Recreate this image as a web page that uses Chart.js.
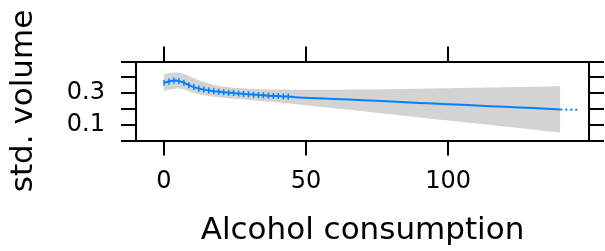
<!DOCTYPE html>
<html>
<head>
<meta charset="utf-8">
<script src="https://cdn.jsdelivr.net/npm/chart.js@4/dist/chart.umd.min.js"></script>
<style>
  html, body { margin: 0; padding: 0; background: #fff; }
  canvas { display: block; }
</style>
</head>
<body>
<canvas id="effectChart" width="605" height="251"></canvas>
<script>
// --- data ---
// fitted effect (solid part)
const fitX = [0, 1.75, 3.5, 5.25, 7, 8.75, 10.5, 12.25, 14, 15.75, 17.5, 19.25, 21, 22.75, 24.5, 26.25, 28, 29.75,
              31.5, 33.25, 35, 36.75, 38.5, 40.25, 42, 43.75, 50, 60, 70, 80, 90, 100, 110, 120, 130, 139.5];
const fitY = [0.365, 0.374, 0.379, 0.377, 0.366, 0.350, 0.338, 0.329, 0.322, 0.316, 0.312, 0.309, 0.306, 0.303, 0.300, 0.297, 0.295, 0.292,
              0.290, 0.288, 0.286, 0.284, 0.282, 0.281, 0.279, 0.278, 0.270, 0.263, 0.255, 0.247, 0.238, 0.230, 0.222, 0.213, 0.205, 0.196];
// dotted extension past the band
const extX = [139.5, 146];
const extY = [0.196, 0.194];
// confidence band
const bandX = [0, 2, 4, 6, 8, 10, 12, 14, 17, 20, 25, 30, 40, 50, 70, 90, 110, 125, 139.5];
const bandUpper = [0.418, 0.427, 0.431, 0.428, 0.415, 0.398, 0.383, 0.370, 0.355, 0.344, 0.334, 0.328, 0.323, 0.321, 0.323, 0.328, 0.334, 0.339, 0.344];
const bandLower = [0.312, 0.322, 0.328, 0.327, 0.318, 0.304, 0.294, 0.286, 0.278, 0.272, 0.264, 0.257, 0.242, 0.223, 0.185, 0.146, 0.108, 0.079, 0.050];

// axes
const xTicks = [0, 50, 100];
const yTicks = [0, 0.1, 0.2, 0.3, 0.4, 0.5];
const yTickLabels = ['', '0.1', '', '0.3', '', ''];
const xTitle = 'Alcohol consumption';
const yTitle = 'std. volume';

const toPts = (xs, ys) => xs.map((x, i) => ({ x: x, y: ys[i] }));

const FONT = 'DejaVu Sans';
const BLUE = '#0080ff';
const GREY = '#d3d3d3';

// общие настройки для рамки и засечек
function frameAxis(extra) {
    return Object.assign({
        type: 'linear',
        border: { display: true, color: '#000', width: 2 },
        grid: { display: true, drawOnChartArea: false, drawTicks: true, tickLength: 15, color: '#000', lineWidth: 2 },
    }, extra);
}

const xRange = { min: -9.85, max: 149.6 };
const yRange = { min: 0, max: 0.5 };

// Chart.js рисует первый датасет поверх остальных, поэтому линия идёт первой, полоса последней
new Chart(document.getElementById('effectChart'), {
    type: 'line',
    data: {
        datasets: [
            {
                data: toPts(fitX, fitY), borderColor: BLUE, borderWidth: 2, fill: false, tension: 0.3,
                pointStyle: 'line', rotation: 90, pointBorderColor: BLUE, pointBorderWidth: 1.5,
                pointRadius: ctx => (ctx.raw && ctx.raw.x <= 45 ? 3 : 0)
            },
            { data: toPts(extX, extY), borderColor: BLUE, borderWidth: 2, borderDash: [2, 3], pointRadius: 0, fill: false },
            { data: toPts(bandX, bandUpper), borderWidth: 0, pointRadius: 0, backgroundColor: GREY, fill: '+1', tension: 0.3 },
            { data: toPts(bandX, bandLower), borderWidth: 0, pointRadius: 0, backgroundColor: GREY, fill: false, tension: 0.3 }
        ]
    },
    options: {
        responsive: false,
        animation: false,
        events: [],
        layout: { padding: 0 },
        plugins: { legend: { display: false }, tooltip: { enabled: false } },
        scales: {
            x: frameAxis(Object.assign({
                position: 'bottom',
                afterBuildTicks: s => { s.ticks = xTicks.map(v => ({ value: v })); },
                afterFit: s => { s.height = 110.5; },
                ticks: { color: '#000', font: { family: FONT, size: 24 }, padding: 12, maxRotation: 0, autoSkip: false },
                title: { display: true, text: xTitle, color: '#000', font: { family: FONT, size: 31 }, padding: { top: 0, bottom: 1.4 } }
            }, xRange)),
            x2: frameAxis(Object.assign({
                position: 'top',
                afterBuildTicks: s => { s.ticks = xTicks.map(v => ({ value: v })); },
                afterFit: s => { s.height = 61.5; },
                ticks: { display: false, autoSkip: false }
            }, xRange)),
            y: frameAxis(Object.assign({
                position: 'left',
                afterBuildTicks: s => { s.ticks = yTicks.map(v => ({ value: v })); },
                afterFit: s => { s.width = 136; },
                ticks: {
                    color: '#000', font: { family: FONT, size: 24 }, padding: 16, autoSkip: false,
                    callback: (v, i) => yTickLabels[i]
                },
                title: { display: true, text: yTitle, color: '#000', font: { family: FONT, size: 31 }, padding: { top: 5.7, bottom: 0 } }
            }, yRange)),
            y2: frameAxis(Object.assign({
                position: 'right',
                afterBuildTicks: s => { s.ticks = yTicks.map(v => ({ value: v })); },
                afterFit: s => { s.width = 16; },
                ticks: { display: false, autoSkip: false }
            }, yRange))
        }
    }
});
</script>
</body>
</html>
